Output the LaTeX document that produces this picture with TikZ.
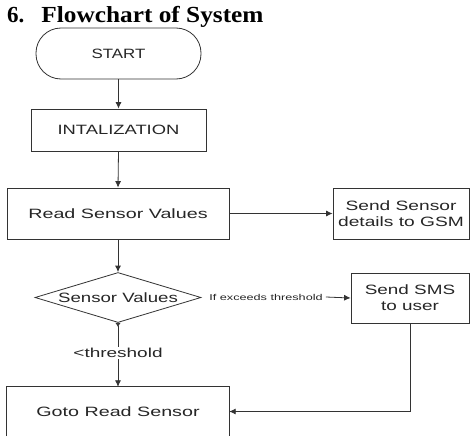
\documentclass[tikz,border=0pt]{standalone}
\usepackage{fontspec}
\setmainfont{Liberation Sans}
\newfontfamily\titlefont{Liberation Serif}
\usetikzlibrary{shapes.geometric,arrows.meta}
\newcommand\stx[2][1.42]{\scalebox{#1}[1]{#2}}
\tikzset{
  ln/.style={draw=black!80, line width=0.8pt},
  arr/.style={ln, -{Latex[length=6.5pt,width=6pt]}},
  boxtxt/.style={font=\fontsize{13.5}{16}\selectfont, text=black!85},
  flowbox/.style={ln, boxtxt, rectangle, inner sep=0pt, align=center},
  termbox/.style={ln, boxtxt, rectangle, rounded corners=25pt, inner sep=0pt},
  decbox/.style={ln, boxtxt, diamond, aspect=3.32, inner sep=0pt},
  smalllbl/.style={font=\fontsize{8.5}{10}\selectfont, text=black!85, inner ysep=1pt, inner xsep=3pt},
  edgelbl/.style={font=\fontsize{13}{15}\selectfont, text=black!85, fill=white, inner sep=1.5pt}
}
\begin{document}
\begin{tikzpicture}[x=1pt,y=-1pt]
\useasboundingbox (0,0) rectangle (471,444);
\fill[white] (0,0) rectangle (471,444);
% title
\node[anchor=base west, inner sep=0pt, font=\titlefont\bfseries\fontsize{23}{26}\selectfont] (title) at (7,22.5)
  {6.\hspace{17pt}\scalebox{1.1}[1]{Flowchart of System}};
% nodes
\node[termbox, minimum width=165pt, minimum height=51pt] (start) at (118.5,53.5) {\stx[1.25]{START}};
\node[flowbox, minimum width=175pt, minimum height=42pt] (init) at (118.5,130) {\stx[1.36]{INTALIZATION}};
\node[flowbox, minimum width=222pt, minimum height=51pt] (read) at (118,213.5) {\stx[1.46]{Read Sensor Values}};
\node[flowbox, minimum width=136pt, minimum height=51pt] (gsm) at (401,213.5) {\stx{Send Sensor}\\\stx{details to GSM}};
\node[decbox, minimum width=166pt, minimum height=50pt] (dia) at (118,297.5) {\stx[1.38]{Sensor Values}};
\node[flowbox, minimum width=118pt, minimum height=50pt] (sms) at (410,298) {\stx[1.4]{Send SMS}\\\stx[1.4]{to user}};
\node[boxtxt, rectangle, inner sep=0pt, minimum width=222pt, minimum height=49pt] (goto) at (118,411.5) {\stx[1.46]{Goto Read Sensor}};
\draw[ln] (goto.south west) -- (goto.north west) -- (goto.north east) -- (goto.south east);
\node[smalllbl] (lbl) at (266,297) {\stx[1.49]{If exceeds threshold}};
% connectors
\draw[arr] (start.south) -- (init.north);
\draw[arr] (init.south) -- (read.north);
\draw[arr] (read.east) -- (gsm.west);
\draw[arr] (read.south) -- (dia.north);
\draw[arr] (lbl.east) -- (sms.west);
\draw[ln, {Latex[reversed,length=4pt,width=5.5pt]}-{Latex[length=6.5pt,width=6pt]}] (dia.south) -- node[edgelbl, pos=0.47] {\stx[1.46]{<threshold}} (goto.north);
\draw[arr] (sms.south) |- (goto.east);
\end{tikzpicture}
\end{document}
